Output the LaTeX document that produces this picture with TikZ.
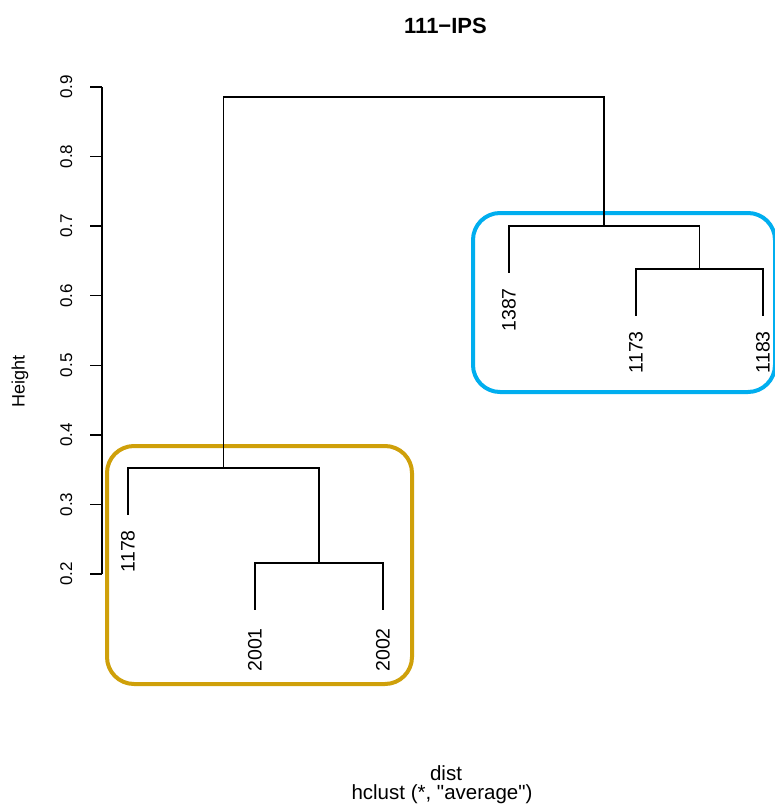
\documentclass[tikz,border=0pt]{standalone}
\usepackage{fontspec}
\setmainfont{Liberation Sans}[Ligatures=TeXOff]
\definecolor{clgold}{RGB}{207,160,10}
\definecolor{clblue}{RGB}{0,174,239}
\begin{document}
\begin{tikzpicture}[x=1pt,y=-1pt,
  tree/.style={line width=1.3pt},
  leaflab/.style={rotate=90,anchor=east,inner sep=0pt,font=\fontsize{19.5}{22}\selectfont},
  ticklab/.style={rotate=90,anchor=base,inner sep=0pt,font=\fontsize{17}{20}\selectfont},
  plain/.style={inner sep=0pt,font=\fontsize{20.5}{24}\selectfont},
  clbox/.style={line width=4pt,rounded corners=27pt}]
\useasboundingbox[fill=white] (0,0) rectangle (774,806);
% cluster boxes
\draw[clbox,clgold] (107,446) rectangle (412,684);
\draw[clbox,clblue] (473,213) rectangle (775,392);
% leaves
\coordinate (l1178) at (128,515);
\coordinate (l2001) at (255,610);
\coordinate (l2002) at (383,610);
\coordinate (l1387) at (509,273);
\coordinate (l1173) at (636,316);
\coordinate (l1183) at (763,316);
% merges
\coordinate (m2001) at (319,563);
\coordinate (m1178) at (223.5,468);
\coordinate (m1173) at (699.5,269);
\coordinate (m1387) at (604,226);
\coordinate (top) at (413.5,97);
\draw[tree] (m2001) -| (l2001);
\draw[tree] (m2001) -| (l2002);
\draw[tree] (m1178) -| (l1178);
\draw[tree] (m1178) -| (m2001);
\draw[tree] (m1173) -| (l1173);
\draw[tree] (m1173) -| (l1183);
\draw[tree] (m1387) -| (l1387);
\draw[tree] (m1387) -| (m1173);
\draw[tree] (top) -| (m1178);
\draw[tree] (top) -| (m1387);
% leaf labels
\node[leaflab] (t1178) at (128,530) {1178};
\node[leaflab] (t2001) at (255,628) {2001};
\node[leaflab] (t2002) at (383,628) {2002};
\node[leaflab] (t1387) at (509,288) {1387};
\node[leaflab] (t1173) at (636,331) {1173};
\node[leaflab] (t1183) at (763,331) {1183};
% axis
\draw[line width=1.3pt] (102,87) -- (102,574);
\foreach \v/\y in {0.9/87,0.8/156.6,0.7/226.1,0.6/295.7,0.5/365.3,0.4/434.9,0.3/504.4,0.2/574}{
  \draw[line width=1.3pt] (102,\y) -- (90,\y);
  \node[ticklab] at (72,\y) {\v};
}
\node[inner sep=0pt,rotate=90,font=\fontsize{18}{21}\selectfont] (ylab) at (20,381) {Height};
% titles
\node[inner sep=0pt,anchor=base,font=\fontsize{22}{26}\selectfont\bfseries] (title) at (445.5,33) {111−IPS};
\node[plain,anchor=base] (xlab) at (446,780) {dist};
\node[plain,anchor=base] (sub) at (442,799) {hclust (*, "average")};
\end{tikzpicture}
\end{document}
